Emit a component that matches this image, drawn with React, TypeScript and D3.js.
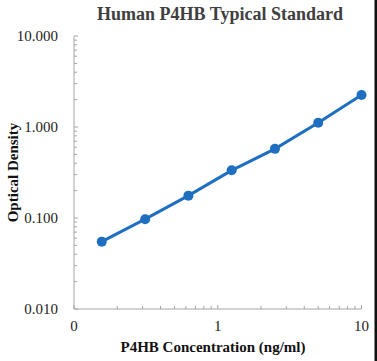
import { useRef, useEffect } from "react";
import * as d3 from "d3";

const concentrations = [0.156, 0.3125, 0.625, 1.25, 2.5, 5, 10];
const densities = [0.055, 0.097, 0.176, 0.334, 0.575, 1.115, 2.25];
const yTicks = [0.01, 0.1, 1, 10];
const xTickLabels = [
  { v: 0.1, label: "0" },
  { v: 1, label: "1" },
  { v: 10, label: "10" },
];

const W = 377;
const H = 361;

const App = () => {
  const svgRef = useRef<SVGSVGElement | null>(null);

  useEffect(() => {
    if (!svgRef.current) return;
    const svg = d3.select(svgRef.current);
    svg.selectAll("*").remove();

    const font = "'Liberation Serif', 'Times New Roman', serif";
    const left = 74;
    const right = 361.5;
    const top = 36;
    const bottom = 309;

    const x = d3.scaleLog().domain([0.1, 10]).range([left, right]);
    const y = d3.scaleLog().domain([0.01, 10]).range([bottom, top]);

    svg.append("rect").attr("width", W).attr("height", H).attr("fill", "#fff");
    // black strip on right edge
    svg.append("rect").attr("x", 374.5).attr("y", 0).attr("width", 3).attr("height", H).attr("fill", "#111");

    // title
    svg.append("text")
      .attr("x", 220)
      .attr("y", 20)
      .attr("text-anchor", "middle")
      .style("font-family", font)
      .style("font-weight", "bold")
      .style("font-size", "18px")
      .style("fill", "#404040")
      .text("Human P4HB Typical Standard");

    const axisColor = "#a6a6a6";

    // y axis
    const yAxis = svg.append("g").attr("transform", `translate(${left},0)`);
    yAxis.append("line")
      .attr("x1", 0).attr("x2", 0)
      .attr("y1", top).attr("y2", bottom)
      .attr("stroke", axisColor);
    const yMinor: number[] = [];
    for (let d = 0.01; d < 10; d *= 10) {
      for (let k = 2; k <= 9; k++) yMinor.push(d * k);
    }
    yAxis.selectAll("line.minor")
      .data(yMinor)
      .enter()
      .append("line")
      .attr("class", "minor")
      .attr("x1", 0).attr("x2", 3)
      .attr("y1", (d) => y(d)).attr("y2", (d) => y(d))
      .attr("stroke", axisColor);
    yAxis.selectAll("line.major")
      .data(yTicks)
      .enter()
      .append("line")
      .attr("class", "major")
      .attr("x1", 0).attr("x2", 4)
      .attr("y1", (d) => y(d)).attr("y2", (d) => y(d))
      .attr("stroke", axisColor);
    svg.selectAll("text.ylab")
      .data(yTicks)
      .enter()
      .append("text")
      .attr("class", "ylab")
      .attr("x", 58)
      .attr("y", (d) => y(d) + 5)
      .attr("text-anchor", "end")
      .style("font-family", font)
      .style("font-size", "15px")
      .style("fill", "#222")
      .text((d) => d3.format(".3f")(d));

    // x axis
    const xAxis = svg.append("g").attr("transform", `translate(0,${bottom})`);
    xAxis.append("line")
      .attr("x1", left).attr("x2", right)
      .attr("y1", 0).attr("y2", 0)
      .attr("stroke", axisColor);
    const xMinor: number[] = [];
    for (let d = 0.1; d < 10; d *= 10) {
      for (let k = 2; k <= 9; k++) xMinor.push(d * k);
    }
    xAxis.selectAll("line.minor")
      .data(xMinor)
      .enter()
      .append("line")
      .attr("class", "minor")
      .attr("x1", (d) => x(d)).attr("x2", (d) => x(d))
      .attr("y1", 0).attr("y2", -3)
      .attr("stroke", axisColor);
    xAxis.selectAll("line.major")
      .data(xTickLabels)
      .enter()
      .append("line")
      .attr("class", "major")
      .attr("x1", (d) => x(d.v)).attr("x2", (d) => x(d.v))
      .attr("y1", 0).attr("y2", -4)
      .attr("stroke", axisColor);
    svg.selectAll("text.xlab")
      .data(xTickLabels)
      .enter()
      .append("text")
      .attr("class", "xlab")
      .attr("x", (d) => x(d.v))
      .attr("y", 331)
      .attr("text-anchor", "middle")
      .style("font-family", font)
      .style("font-size", "15px")
      .style("fill", "#222")
      .text((d) => d.label);

    // axis titles
    svg.append("text")
      .attr("x", 213)
      .attr("y", 352)
      .attr("text-anchor", "middle")
      .style("font-family", font)
      .style("font-weight", "bold")
      .style("font-size", "15px")
      .style("fill", "#111")
      .text("P4HB Concentration (ng/ml)");

    svg.append("text")
      .attr("transform", `translate(18,${(top + bottom) / 2}) rotate(-90)`)
      .attr("text-anchor", "middle")
      .style("font-family", font)
      .style("font-weight", "bold")
      .style("font-size", "15px")
      .style("fill", "#111")
      .text("Optical Density");

    // series
    const pts = concentrations.map((c, i) => [c, densities[i]] as [number, number]);
    const line = d3.line<[number, number]>()
      .x((d) => x(d[0]))
      .y((d) => y(d[1]));
    const blue = "#1f6fc0";
    svg.append("path")
      .datum(pts)
      .attr("d", line)
      .attr("fill", "none")
      .attr("stroke", blue)
      .attr("stroke-width", 3);
    svg.selectAll("circle.pt")
      .data(pts)
      .enter()
      .append("circle")
      .attr("class", "pt")
      .attr("cx", (d) => x(d[0]))
      .attr("cy", (d) => y(d[1]))
      .attr("r", 5)
      .style("fill", blue);
  }, []);

  return (
    <svg
      ref={svgRef}
      width={W}
      height={H}
      style={{ position: "absolute", left: 0, top: 0, display: "block" }}
    ></svg>
  );
};

export default App;
